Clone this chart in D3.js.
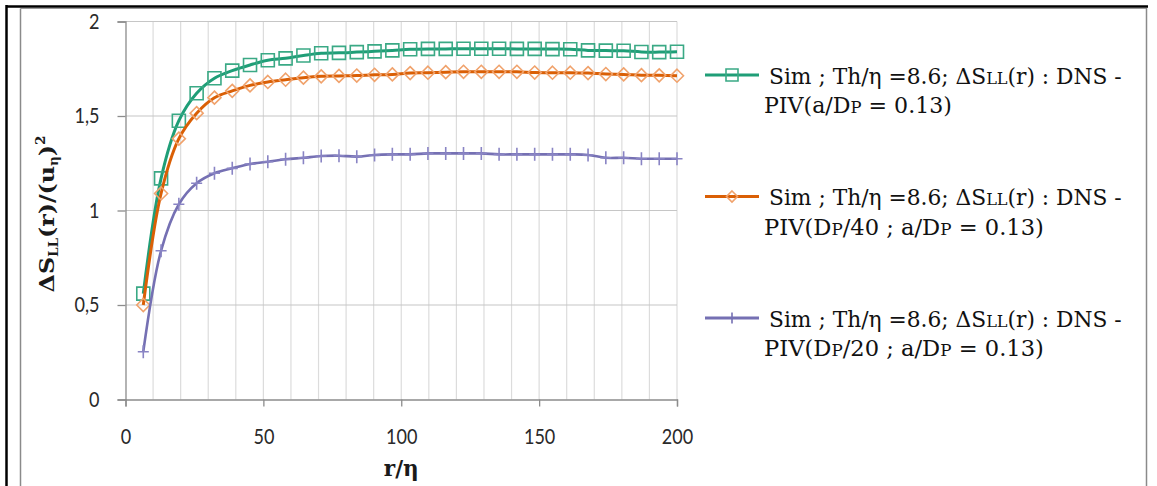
<!DOCTYPE html>
<html>
<head>
<meta charset="utf-8">
<script src="https://cdn.jsdelivr.net/npm/d3@7"></script>
<style>
  html, body { margin: 0; padding: 0; background: #fff; }
  svg { display: block; }
</style>
</head>
<body>
<svg id="chart" width="1157" height="486"></svg>
<script>
// r/η sample positions
const rEta = [6.45, 12.9, 19.35, 25.8, 32.26, 38.71, 45.16, 51.61, 58.06, 64.52,
  70.97, 77.42, 83.87, 90.32, 96.77, 103.23, 109.68, 116.13, 122.58, 129.03,
  135.48, 141.94, 148.39, 154.84, 161.29, 167.74, 174.19, 180.65, 187.1, 193.55, 200];

// ΔS_LL(r)/(u_η)² : DNS - PIV(a/Dp = 0.13)
const seriesFull = [0.56, 1.17, 1.475, 1.62, 1.70, 1.74, 1.77, 1.795, 1.805, 1.82,
  1.832, 1.834, 1.838, 1.842, 1.847, 1.853, 1.855, 1.855, 1.856, 1.856,
  1.856, 1.855, 1.855, 1.854, 1.853, 1.847, 1.846, 1.845, 1.839, 1.838, 1.840];

// ΔS_LL(r)/(u_η)² : DNS - PIV(Dp/40 ; a/Dp = 0.13)
const seriesDp40 = [0.50, 1.09, 1.38, 1.515, 1.597, 1.633, 1.662, 1.68, 1.692, 1.703,
  1.710, 1.712, 1.714, 1.718, 1.720, 1.727, 1.729, 1.732, 1.734, 1.734,
  1.734, 1.734, 1.730, 1.729, 1.729, 1.727, 1.722, 1.720, 1.716, 1.715, 1.713];

// ΔS_LL(r)/(u_η)² : DNS - PIV(Dp/20 ; a/Dp = 0.13)
const seriesDp20 = [0.253, 0.787, 1.033, 1.144, 1.197, 1.223, 1.246, 1.258, 1.271, 1.279,
  1.288, 1.290, 1.285, 1.294, 1.297, 1.297, 1.302, 1.302, 1.302, 1.302,
  1.297, 1.297, 1.297, 1.297, 1.297, 1.294, 1.279, 1.279, 1.274, 1.274, 1.274];

const xTicks = [0, 50, 100, 150, 200];
const yTicks = [0, 0.5, 1, 1.5, 2];
const xGrid = [10, 20, 30, 40, 50, 60, 70, 80, 90, 100, 110, 120, 130, 140, 150, 160, 170, 180, 190, 200];

const series = [
  { values: seriesFull, line: "#1f9e77", mark: "#3aa985", marker: "square",
    l2: [["PIV(a/D"], ["P", true], [" = 0.13)"]] },
  { values: seriesDp40, line: "#da5f05", mark: "#f0a26c", marker: "diamond",
    l2: [["PIV(D"], ["P", true], ["/40 ; a/D"], ["P", true], [" = 0.13)"]] },
  { values: seriesDp20, line: "#7570b3", mark: "#8984c4", marker: "cross",
    l2: [["PIV(D"], ["P", true], ["/20 ; a/D"], ["P", true], [" = 0.13)"]] }
];
const legendLine1 = [["Sim ; Th/η =8.6; ΔS"], ["LL", true], ["(r) : DNS -"]];

const svg = d3.select("#chart");

// page frame
svg.append("line").attr("x1", 6).attr("x2", 1148).attr("y1", 6.5).attr("y2", 6.5)
  .attr("stroke", "#000").attr("stroke-width", 2.5);
svg.append("line").attr("x1", 6.5).attr("x2", 6.5).attr("y1", 5).attr("y2", 486)
  .attr("stroke", "#000").attr("stroke-width", 2.5);
svg.append("line").attr("x1", 20.5).attr("x2", 1146).attr("y1", 8.5).attr("y2", 8.5)
  .attr("stroke", "#9a9a9a").attr("stroke-width", 1);
svg.append("line").attr("x1", 20.5).attr("x2", 20.5).attr("y1", 8.5).attr("y2", 486)
  .attr("stroke", "#8a8a8a").attr("stroke-width", 1.5);
svg.append("line").attr("x1", 1146.5).attr("x2", 1146.5).attr("y1", 8).attr("y2", 486)
  .attr("stroke", "#8a8a8a").attr("stroke-width", 1.5);

const x = d3.scaleLinear().domain([0, 200]).range([125.5, 677]);
const y = d3.scaleLinear().domain([0, 2]).range([399.5, 21.5]);

const plot = svg.append("g");

// vertical grid
plot.selectAll("line.vg").data(xGrid).join("line").attr("class", "vg")
  .attr("x1", d => x(d)).attr("x2", d => x(d))
  .attr("y1", y(0)).attr("y2", y(2))
  .attr("stroke", "#dcdcdc").attr("stroke-width", 1.2);

// horizontal grid
plot.selectAll("line.hg").data(yTicks.filter(d => d > 0)).join("line").attr("class", "hg")
  .attr("x1", x(0)).attr("x2", x(200))
  .attr("y1", d => y(d)).attr("y2", d => y(d))
  .attr("stroke", "#c6c6c6").attr("stroke-width", 1.2);

const tickFont = "Lato, 'Open Sans', sans-serif";

// narrow a text element horizontally to the given ratio of its natural width
function condense(sel, ratio) {
  sel.each(function () {
    const w = this.getComputedTextLength();
    d3.select(this).attr("textLength", w * ratio).attr("lengthAdjust", "spacingAndGlyphs");
  });
}

// y axis
const yAxis = plot.append("g").attr("transform", `translate(${x(0)},0)`)
  .call(d3.axisLeft(y).tickValues(yTicks).tickSize(8).tickPadding(18)
    .tickFormat(d => d3.format("~g")(d).replace(".", ",")));
yAxis.select(".domain").attr("stroke", "#8c8c8c").attr("stroke-width", 1.3);
yAxis.selectAll(".tick line").attr("stroke", "#8c8c8c").attr("stroke-width", 1.3);
yAxis.selectAll("text").attr("font-family", tickFont).attr("font-size", 20.5)
  .attr("fill", "#2a2a2a").call(condense, 0.88);

// x axis
const xAxis = plot.append("g").attr("transform", `translate(0,${y(0)})`)
  .call(d3.axisBottom(x).tickValues(xTicks).tickSize(7));
xAxis.select(".domain").attr("stroke", "#8c8c8c").attr("stroke-width", 1.3);
xAxis.selectAll(".tick line").attr("stroke", "#8c8c8c").attr("stroke-width", 1.3);
xAxis.selectAll("text").attr("font-family", tickFont).attr("font-size", 20.5)
  .attr("fill", "#2a2a2a").attr("y", 44).attr("dy", 0).call(condense, 0.88);

// marker shapes
function markerPath(type, cx, cy, s) {
  const h = s / 2;
  if (type === "square") return `M${cx - h},${cy - h}h${s}v${s}h${-s}Z`;
  if (type === "diamond") return `M${cx},${cy - h}l${h},${h}l${-h},${h}l${-h},${-h}Z`;
  return `M${cx},${cy - h}v${s}M${cx - h * 0.85},${cy}h${s * 0.85}`;
}

const line = d3.line().x(d => x(d[0])).y(d => y(d[1])).curve(d3.curveCatmullRom.alpha(0.5));

series.forEach(s => {
  const pts = rEta.map((r, i) => [r, s.values[i]]);
  const g = plot.append("g");
  g.append("path").datum(pts).attr("d", line)
    .attr("fill", "none").attr("stroke", s.line)
    .attr("stroke-width", s.marker === "cross" ? 2.6 : 3)
    .attr("stroke-linejoin", "round");
  g.selectAll("path.m").data(pts).join("path").attr("class", "m")
    .attr("d", d => markerPath(s.marker, x(d[0]), y(d[1]), 13))
    .attr("fill", "none").attr("stroke", s.mark).attr("stroke-width", 1.6);
});

// axis titles
const serif = "'DejaVu Serif', 'Liberation Serif', serif";
const yTitle = svg.append("text")
  .attr("transform", "translate(54,214) rotate(-90)")
  .attr("text-anchor", "middle").attr("font-family", serif).attr("font-weight", "bold")
  .attr("font-size", 21).attr("fill", "#1a1a1a");
yTitle.append("tspan").text("ΔS");
yTitle.append("tspan").text("LL").attr("font-size", 12).attr("dy", 4);
yTitle.append("tspan").text("(r)/(u").attr("dy", -4);
yTitle.append("tspan").text("η").attr("font-size", 12).attr("dy", 4);
yTitle.append("tspan").text(")").attr("dy", -4);
yTitle.append("tspan").text("2").attr("font-size", 12).attr("dy", -9);
yTitle.attr("textLength", 157).attr("lengthAdjust", "spacingAndGlyphs");

svg.append("text").attr("x", x(100)).attr("y", 476).attr("text-anchor", "middle")
  .attr("font-family", serif).attr("font-weight", "bold").attr("font-size", 23)
  .attr("fill", "#1a1a1a").text("r/η")
  .attr("textLength", 35).attr("lengthAdjust", "spacingAndGlyphs");

// legend: each text line is set at its natural size, then squeezed horizontally
const legendFont = 23;
function legendText(g, parts, x0, baseline, width) {
  const t = g.append("text").attr("x", 0).attr("y", 0)
    .attr("font-family", serif).attr("font-size", legendFont).attr("fill", "#111");
  parts.forEach(p => {
    const sp = t.append("tspan").text(p[0]);
    if (p[1]) sp.attr("font-size", legendFont * 0.74);
  });
  const w = t.node().getBBox().width;
  t.attr("transform", `translate(${x0},${baseline}) scale(${width / w},1)`);
}
const legendTop = [75, 196.5, 318];
series.forEach((s, i) => {
  const cy = legendTop[i];
  const g = svg.append("g");
  g.append("line").attr("x1", 705).attr("x2", 759).attr("y1", cy).attr("y2", cy)
    .attr("stroke", s.line).attr("stroke-width", 3);
  g.append("path").attr("d", markerPath(s.marker, 732, cy, s.marker === "square" ? 12 : 11))
    .attr("fill", "none")
    .attr("stroke", s.marker === "cross" ? s.line : s.mark).attr("stroke-width", 1.6);
  legendText(g, legendLine1, 769, cy + 8.5, 353);
  legendText(g, s.l2, 764, cy + 38, i === 0 ? 188 : 280);
});
</script>
</body>
</html>
